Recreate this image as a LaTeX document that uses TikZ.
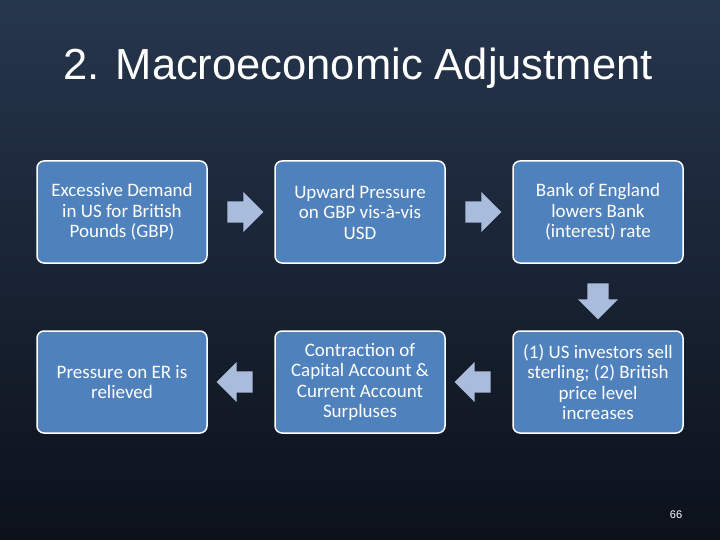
\documentclass[tikz,border=0pt]{standalone}
\usepackage{fontspec}
\setmainfont{Carlito}
\newfontfamily\titlefont{Liberation Sans}
\usetikzlibrary{shapes.arrows}
\definecolor{boxblue}{HTML}{4F81BD}
\definecolor{arrowc}{HTML}{A9BCDB}
\definecolor{bgtop}{HTML}{26364D}
\definecolor{bgbot}{HTML}{0C111B}
\tikzset{
  box/.style={draw=white, line width=1.5pt, fill=boxblue, rounded corners=7pt, minimum width=170pt, minimum height=102pt, align=center, text=white, font=\fontsize{19}{20.5}\selectfont},
  blockarrow/.style={single arrow, fill=arrowc, draw=none, minimum width=40pt, minimum height=36pt, single arrow head extend=9pt, inner sep=10pt}
}
\begin{document}
\begin{tikzpicture}[x=1pt,y=-1pt]
\shade[top color=bgtop, bottom color=bgbot] (0,0) rectangle (720,540);
\useasboundingbox (0,0) rectangle (720,540);
\node[text=white, font=\titlefont\fontsize{43.5}{48}\selectfont] (title) at (358,68) {2. Macroeconomic Adjustment};
\node[box] (b1) at (122,212) {Excessive Demand\\in US for British\\Pounds (GBP)};
\node[box] (b2) at (360,212) {Upward Pressure\\on GBP vis-à-vis\\USD};
\node[box] (b3) at (598,212) {Bank of England\\lowers Bank\\(interest) rate};
\node[box] (b4) at (598,382) {(1) US investors sell\\sterling; (2) British\\price level\\increases};
\node[box] (b5) at (360,382) {Contraction of\\Capital Account \&\\Current Account\\Surpluses};
\node[box] (b6) at (122,382) {Pressure on ER is\\relieved};
\node[blockarrow] (a1) at (240,212) {};
\node[blockarrow] (a2) at (478,212) {};
\node[blockarrow, shape border rotate=270] (a3) at (598,296) {};
\node[blockarrow, shape border rotate=180] (a4) at (478,382) {};
\node[blockarrow, shape border rotate=180] (a5) at (240,382) {};
\node[text=white, font=\titlefont\fontsize{11}{12}\selectfont] (pg) at (676,515) {66};
\end{tikzpicture}
\end{document}
